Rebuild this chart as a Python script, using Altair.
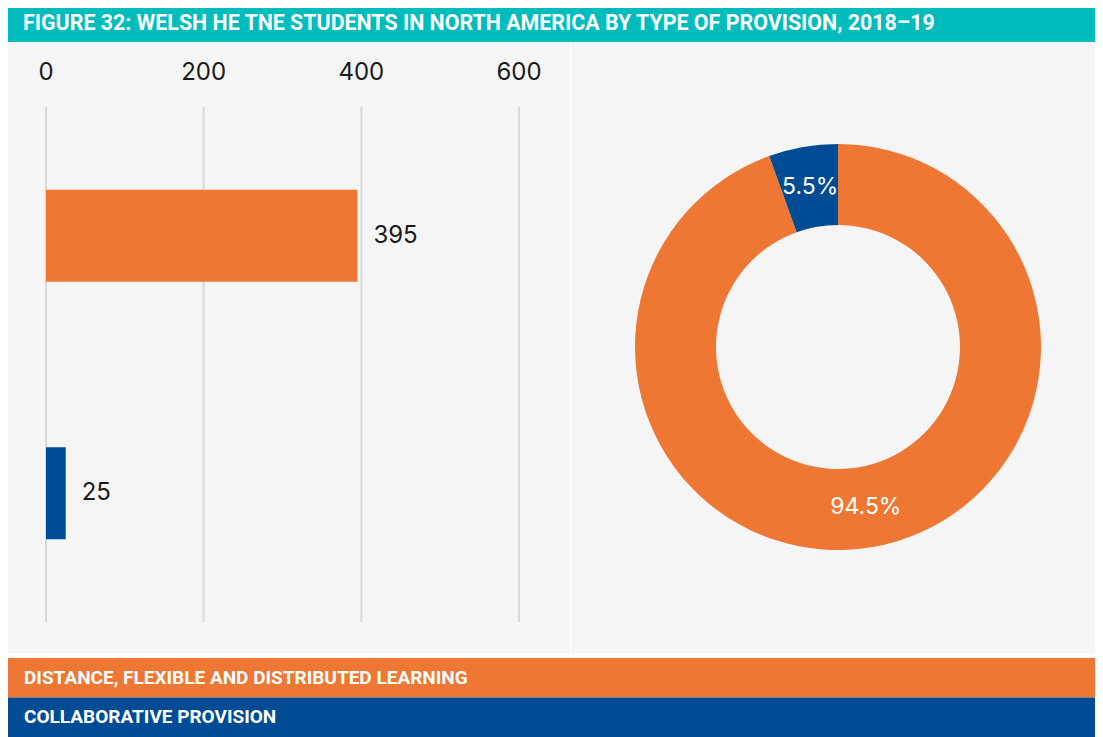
import altair as alt
import pandas as pd

title_text = "FIGURE 32: WELSH HE TNE STUDENTS IN NORTH AMERICA BY TYPE OF PROVISION, 2018–19"
categories = ["Distance, flexible and distributed learning", "Collaborative provision"]
students = [395, 25]
shares = [94.5, 5.5]
share_labels = ["94.5%", "5.5%"]
tick_values = [0, 200, 400, 600]
colors = ["#EE7734", "#004C94"]

df = pd.DataFrame({
    "cat": categories,
    "students": students,
    "share": shares,
    "share_label": share_labels,
    "order": list(range(len(categories))),
    "legend": [c.upper() for c in categories],
})
ticks_df = pd.DataFrame({"tick": tick_values})

W = 1087
PANEL_H = 611
LEFT_W = 562
RIGHT_W = 524
COND = "Roboto"
SANS = "Inter"

color = alt.Color("cat:N", scale=alt.Scale(domain=categories, range=colors), legend=None)
xs = alt.Scale(domain=[0, 600], range=[38, 511], nice=False, zero=True)
ys = alt.Scale(domain=categories, range=[65, 580], paddingInner=0.643, paddingOuter=0.3215)

grid = alt.Chart(ticks_df).mark_rule(color="#d9d9d9", strokeWidth=2).encode(
    x=alt.X("tick:Q", scale=xs, axis=None), y=alt.value(65), y2=alt.value(580))
tick_text = alt.Chart(ticks_df).mark_text(fontSize=24, font=SANS, color="#1a1a1a", baseline="middle").encode(
    x=alt.X("tick:Q", scale=xs, axis=None), y=alt.value(31), text="tick:Q")
bars = alt.Chart(df).mark_bar().encode(
    x=alt.X("students:Q", scale=xs, axis=None),
    y=alt.Y("cat:N", scale=ys, axis=None),
    color=color)
bar_text = alt.Chart(df).mark_text(align="left", baseline="middle", dx=16, fontSize=24, font=SANS, color="#1a1a1a").encode(
    x=alt.X("students:Q", scale=xs, axis=None),
    y=alt.Y("cat:N", scale=ys, axis=None),
    text="students:Q")
left = alt.layer(grid, tick_text, bars, bar_text).properties(
    width=LEFT_W, height=PANEL_H, view=alt.ViewBackground(fill="#f5f5f5", strokeWidth=0))

arc = alt.Chart(df).mark_arc(innerRadius=122, outerRadius=203).encode(
    theta=alt.Theta("share:Q", stack=True), color=color, order=alt.Order("order:Q"),
    x=alt.value(267), y=alt.value(305))
arc_text = alt.Chart(df).mark_text(radius=162, fontSize=23, font=SANS, color="white").encode(
    theta=alt.Theta("share:Q", stack=True), order=alt.Order("order:Q"), text="share_label:N",
    x=alt.value(267), y=alt.value(305))
right = alt.layer(arc, arc_text).properties(
    width=RIGHT_W, height=PANEL_H, view=alt.ViewBackground(fill="#f5f5f5", strokeWidth=0))

leg_y = alt.Y("cat:N", scale=alt.Scale(domain=categories, paddingInner=0, paddingOuter=0), axis=None)
leg_rect = alt.Chart(df).mark_rect().encode(x=alt.value(0), x2=alt.value(W), y=leg_y, color=color)
leg_text = alt.Chart(df).mark_text(align="left", baseline="middle", font=COND, fontWeight="bold", fontSize=19, color="white").encode(
    x=alt.value(16), y=leg_y, text="legend:N")
legend = alt.layer(leg_rect, leg_text).properties(width=W, height=79)

title = alt.Chart(pd.DataFrame({"t": [title_text]})).mark_text(
    align="left", baseline="middle", font=COND, fontWeight="bold", fontSize=21.4, color="white").encode(
    x=alt.value(15), y=alt.value(16), text="t:N").properties(
    width=W, height=34, view=alt.ViewBackground(fill="#00BCBC", strokeWidth=0))

chart = alt.vconcat(
    title,
    alt.vconcat(alt.hconcat(left, right, spacing=1), legend, spacing=5),
    spacing=0,
).properties(padding=0).configure_view(strokeWidth=0)

chart.save("out.html", embed_options={"renderer": "svg", "actions": False})
